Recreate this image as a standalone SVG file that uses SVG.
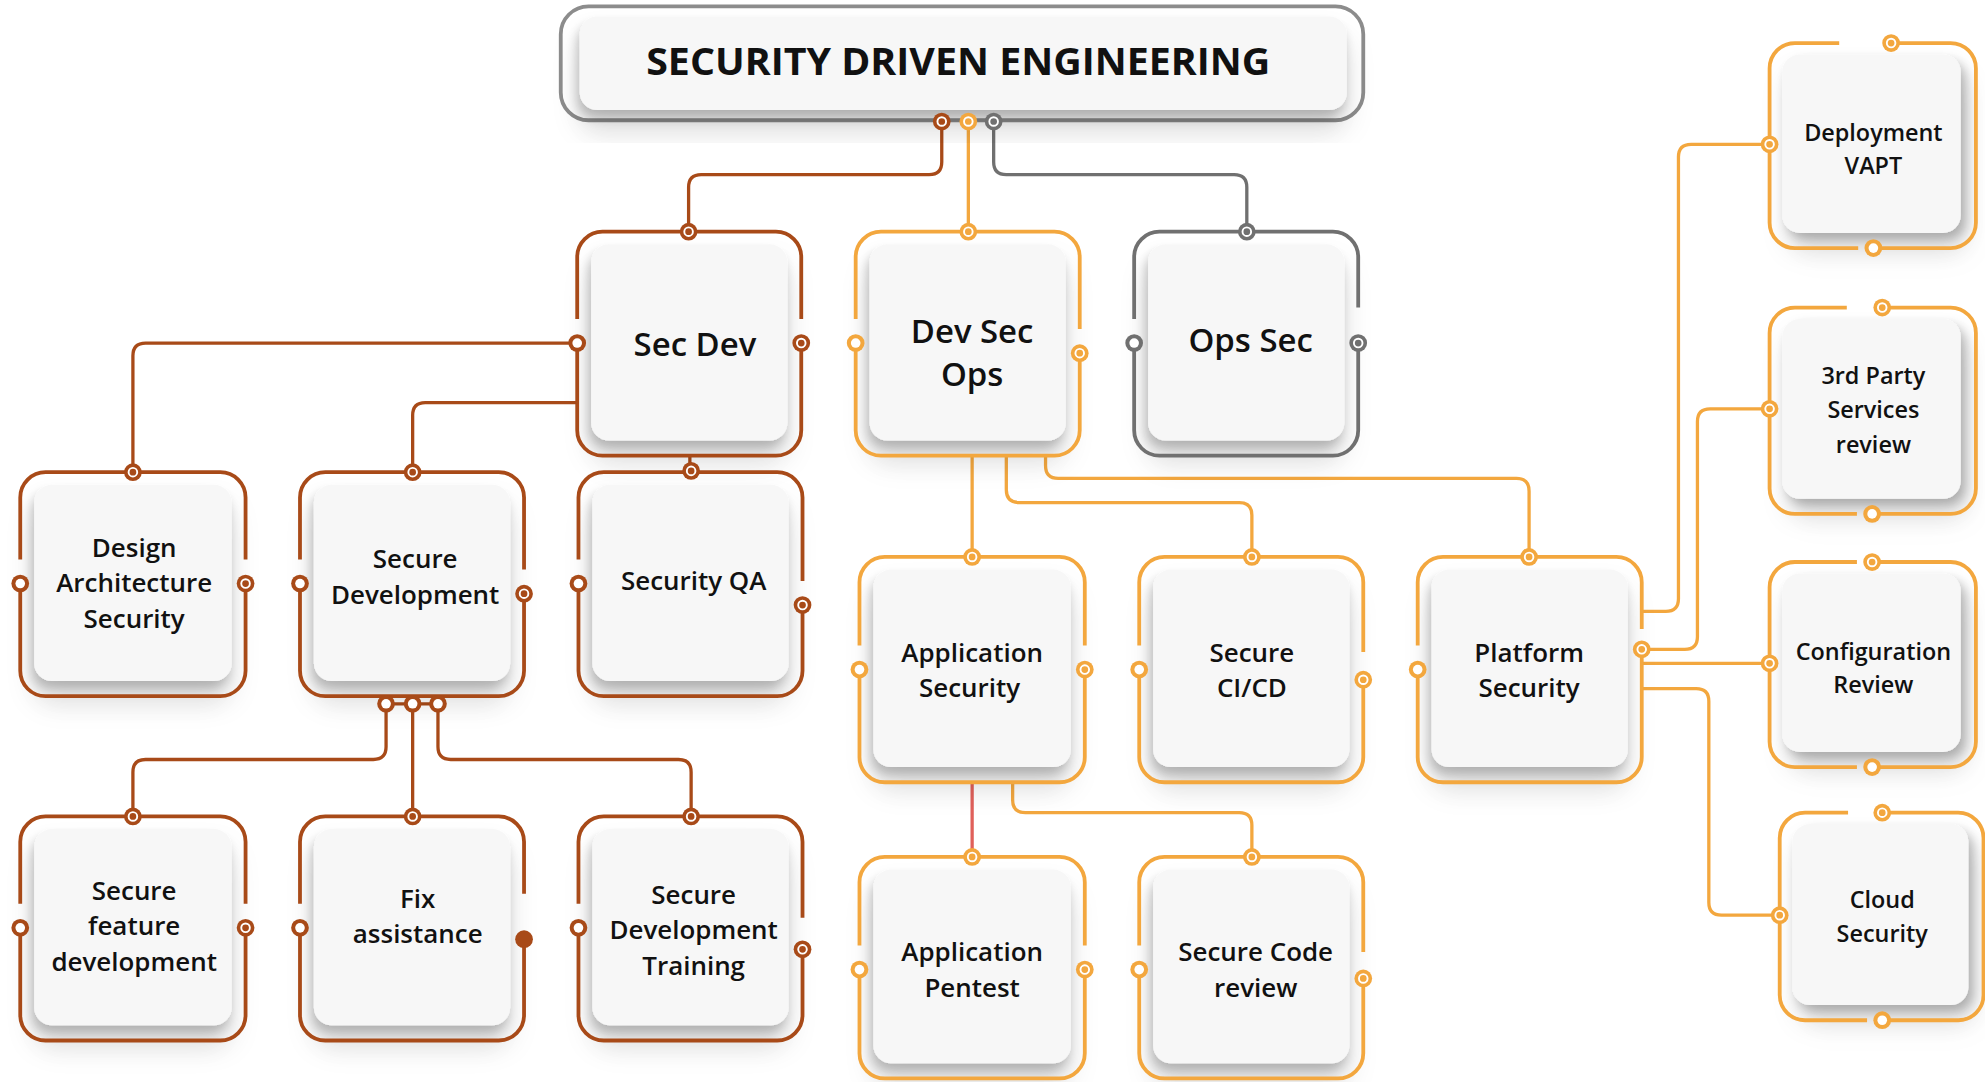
<svg xmlns="http://www.w3.org/2000/svg" xmlns:xlink="http://www.w3.org/1999/xlink" width="1985" height="1082" viewBox="0 0 1985 1082">
<style>
.o{fill:none;stroke-width:3;stroke-linecap:butt}
.c{fill:none;stroke-width:2.6}
.br{stroke:#a84a18}.or{stroke:#f3a73e}.gr{stroke:#707070}.tg{stroke:#8c8c8c}
.fb{fill:#a84a18}.fo{fill:#f3a73e}.fg{fill:#707070}
.card{fill:#f7f7f7;filter:url(#sh)}
.cardr{fill:#f7f7f7;filter:url(#shr)}
.t{font-family:"Open Sans","Liberation Sans",sans-serif;font-weight:600;font-size:20.5px;fill:#111;text-anchor:middle}
.big{font-size:26px}
.sm{font-size:18.5px}
.title{font-family:"Open Sans","Liberation Sans",sans-serif;font-weight:700;font-size:30px;fill:#111;text-anchor:middle}
</style>
<defs>
<filter id="sh" x="-25%" y="-25%" width="150%" height="160%">
<feDropShadow dx="0" dy="16" stdDeviation="11" flood-color="#000" flood-opacity="0.12"/>
<feDropShadow dx="-2" dy="6" stdDeviation="4" flood-color="#000" flood-opacity="0.22"/>
</filter>
<filter id="shr" x="-25%" y="-25%" width="150%" height="160%">
<feDropShadow dx="4" dy="14" stdDeviation="10" flood-color="#000" flood-opacity="0.12"/>
<feDropShadow dx="4" dy="5" stdDeviation="4" flood-color="#000" flood-opacity="0.25"/>
</filter>
<g id="hb"><circle r="7" class="fb"/><circle r="3.8" fill="#fff"/></g>
<g id="rb"><circle r="7" class="fb"/><circle r="3.4" fill="none" stroke="#fff" stroke-width="1.5"/></g>
<g id="fbd"><circle r="7" class="fb"/></g>
<g id="ho"><circle r="7" class="fo"/><circle r="3.8" fill="#fff"/></g>
<g id="ro"><circle r="7" class="fo"/><circle r="3.4" fill="none" stroke="#fff" stroke-width="1.5"/></g>
<g id="hg"><circle r="7" class="fg"/><circle r="3.8" fill="#fff"/></g>
<g id="rg"><circle r="7" class="fg"/><circle r="3.4" fill="none" stroke="#fff" stroke-width="1.5"/></g>
</defs>
<rect width="1985" height="1082" fill="#ffffff"/>
<g transform="scale(1.2658)">

<g id="connectors">
<path class="c br" d="M744,96 V128 Q744,138 734,138 H554 Q544,138 544,148 V183"/>
<path class="c or" d="M765,96 V183"/>
<path class="c gr" d="M785,96 V128 Q785,138 795,138 H975 Q985,138 985,148 V183"/>
<path class="c br" d="M456,271 H115 Q105,271 105,281 V373"/>
<path class="c br" d="M456,318 H336 Q326,318 326,328 V373"/>
<path class="c br" d="M545,360 V373"/>
<path class="c br" d="M305,556 H346"/>
<path class="c br" d="M305,556 V590 Q305,600 295,600 H115 Q105,600 105,610 V645"/>
<path class="c br" d="M326,556 V645"/>
<path class="c br" d="M346,556 V590 Q346,600 356,600 H536 Q546,600 546,610 V645"/>
<path class="c or" d="M768,360 V440"/>
<path class="c or" d="M795,360 V387 Q795,397 805,397 H979 Q989,397 989,407 V440"/>
<path class="c or" d="M826,360 V368 Q826,378 836,378 H1198 Q1208,378 1208,388 V440"/>
<path class="c" stroke="#e0605a" stroke-width="1.8" d="M768,618 V677"/>
<path class="c or" d="M800,618 V632 Q800,642 810,642 H979 Q989,642 989,652 V677"/>
<path class="c or" d="M1297,483 H1316 Q1326,483 1326,473 V124 Q1326,114 1336,114 H1398"/>
<path class="c or" d="M1297,513 H1331 Q1341,513 1341,503 V333 Q1341,323 1351,323 H1398"/>
<path class="c or" d="M1297,524 H1398"/>
<path class="c or" d="M1297,544 H1340 Q1350,544 1350,554 V713 Q1350,723 1360,723 H1406"/>
</g>

<g id="title">
<rect x="443" y="5" width="634" height="90" rx="22" class="o tg"/>
<rect x="458" y="13" width="606" height="74" rx="14" class="card"/>
<text class="title" x="757" y="59" textLength="493" lengthAdjust="spacingAndGlyphs">SECURITY DRIVEN ENGINEERING</text>
<use href="#rb" x="744" y="96"/><use href="#ro" x="765" y="96"/><use href="#rg" x="785" y="96"/>
</g>

<g id="sec-dev">
<rect x="467" y="193" width="155" height="155" rx="14" class="card"/>
<path class="o br" d="M456,252 V203 A20,20 0 0 1 476,183 H613 A20,20 0 0 1 633,203 V252 M633,271 V340 A20,20 0 0 1 613,360 H476 A20,20 0 0 1 456,340 V271"/>
<use href="#rb" x="544" y="183"/><use href="#hb" x="456" y="271"/><use href="#rb" x="633" y="271"/>
<text class="t big" x="549" y="281">Sec Dev</text>
</g>

<g id="dev-sec-ops">
<rect x="687" y="193" width="155" height="155" rx="14" class="card"/>
<path class="o or" d="M676,252 V203 A20,20 0 0 1 696,183 H833 A20,20 0 0 1 853,203 V260 M853,279 V340 A20,20 0 0 1 833,360 H696 A20,20 0 0 1 676,340 V271"/>
<use href="#ro" x="765" y="183"/><use href="#ho" x="676" y="271"/><use href="#ro" x="853" y="279"/>
<text class="t big" x="768" y="271">Dev Sec</text>
<text class="t big" x="768" y="305">Ops</text>
</g>

<g id="ops-sec">
<rect x="907" y="193" width="155" height="155" rx="14" class="card"/>
<path class="o gr" d="M896,252 V203 A20,20 0 0 1 916,183 H1053 A20,20 0 0 1 1073,203 V243 M1073,271 V340 A20,20 0 0 1 1053,360 H916 A20,20 0 0 1 896,340 V271"/>
<use href="#rg" x="985" y="183"/><use href="#hg" x="896" y="271"/><use href="#rg" x="1073" y="271"/>
<text class="t big" x="988" y="278">Ops Sec</text>
</g>

<g id="design-architecture-security">
<rect x="27" y="383" width="156" height="155" rx="14" class="card"/>
<path class="o br" d="M16,442 V393 A20,20 0 0 1 36,373 H174 A20,20 0 0 1 194,393 V442 M194,461 V530 A20,20 0 0 1 174,550 H36 A20,20 0 0 1 16,530 V461"/>
<use href="#rb" x="105" y="373"/><use href="#hb" x="16" y="461"/><use href="#rb" x="194" y="461"/>
<text class="t" x="106" y="440">Design</text>
<text class="t" x="106" y="468">Architecture</text>
<text class="t" x="106" y="496">Security</text>
</g>

<g id="secure-development">
<rect x="248" y="383" width="155" height="155" rx="14" class="card"/>
<path class="o br" d="M237,442 V393 A20,20 0 0 1 257,373 H394 A20,20 0 0 1 414,393 V450 M414,469 V530 A20,20 0 0 1 394,550 H257 A20,20 0 0 1 237,530 V461"/>
<use href="#rb" x="326" y="373"/><use href="#hb" x="237" y="461"/><use href="#rb" x="414" y="469"/>
<use href="#hb" x="305" y="556"/><use href="#hb" x="326" y="556"/><use href="#hb" x="346" y="556"/>
<text class="t" x="328" y="449">Secure</text>
<text class="t" x="328" y="477">Development</text>
</g>

<g id="security-qa">
<rect x="468" y="383" width="155" height="155" rx="14" class="card"/>
<path class="o br" d="M457,442 V393 A20,20 0 0 1 477,373 H614 A20,20 0 0 1 634,393 V459 M634,478 V530 A20,20 0 0 1 614,550 H477 A20,20 0 0 1 457,530 V461"/>
<use href="#rb" x="546" y="372"/><use href="#hb" x="457" y="461"/><use href="#rb" x="634" y="478"/>
<text class="t" x="548" y="466">Security QA</text>
</g>

<g id="secure-feature-development">
<rect x="27" y="655" width="156" height="155" rx="14" class="card"/>
<path class="o br" d="M16,714 V665 A20,20 0 0 1 36,645 H174 A20,20 0 0 1 194,665 V714 M194,733 V802 A20,20 0 0 1 174,822 H36 A20,20 0 0 1 16,802 V733"/>
<use href="#rb" x="105" y="645"/><use href="#hb" x="16" y="733"/><use href="#rb" x="194" y="733"/>
<text class="t" x="106" y="711">Secure</text>
<text class="t" x="106" y="739">feature</text>
<text class="t" x="106" y="767">development</text>
</g>

<g id="fix-assistance">
<rect x="248" y="655" width="155" height="155" rx="14" class="card"/>
<path class="o br" d="M237,714 V665 A20,20 0 0 1 257,645 H394 A20,20 0 0 1 414,665 V706 M414,742 V802 A20,20 0 0 1 394,822 H257 A20,20 0 0 1 237,802 V733"/>
<use href="#rb" x="326" y="645"/><use href="#hb" x="237" y="733"/><use href="#fbd" x="414" y="742"/>
<text class="t" x="330" y="717">Fix</text>
<text class="t" x="330" y="745">assistance</text>
</g>

<g id="secure-development-training">
<rect x="468" y="655" width="155" height="155" rx="14" class="card"/>
<path class="o br" d="M457,714 V665 A20,20 0 0 1 477,645 H614 A20,20 0 0 1 634,665 V725 M634,750 V802 A20,20 0 0 1 614,822 H477 A20,20 0 0 1 457,802 V733"/>
<use href="#rb" x="546" y="645"/><use href="#hb" x="457" y="733"/><use href="#rb" x="634" y="750"/>
<text class="t" x="548" y="714">Secure</text>
<text class="t" x="548" y="742">Development</text>
<text class="t" x="548" y="770">Training</text>
</g>

<g id="application-security">
<rect x="690" y="450" width="156" height="156" rx="14" class="card"/>
<path class="o or" d="M679,510 V460 A20,20 0 0 1 699,440 H837 A20,20 0 0 1 857,460 V510 M857,529 V598 A20,20 0 0 1 837,618 H699 A20,20 0 0 1 679,598 V529"/>
<use href="#ro" x="768" y="440"/><use href="#ho" x="679" y="529"/><use href="#ro" x="857" y="529"/>
<text class="t" x="768" y="523">Application</text>
<text class="t" x="766" y="551">Security</text>
</g>

<g id="secure-ci-cd">
<rect x="911" y="450" width="155" height="156" rx="14" class="card"/>
<path class="o or" d="M900,510 V460 A20,20 0 0 1 920,440 H1057 A20,20 0 0 1 1077,460 V515 M1077,537 V598 A20,20 0 0 1 1057,618 H920 A20,20 0 0 1 900,598 V529"/>
<use href="#ro" x="989" y="440"/><use href="#ho" x="900" y="529"/><use href="#ro" x="1077" y="537"/>
<text class="t" x="989" y="523">Secure</text>
<text class="t" x="989" y="551">CI/CD</text>
</g>

<g id="platform-security">
<rect x="1131" y="450" width="155" height="156" rx="14" class="card"/>
<path class="o or" d="M1120,510 V460 A20,20 0 0 1 1140,440 H1277 A20,20 0 0 1 1297,460 V497 M1297,513 V598 A20,20 0 0 1 1277,618 H1140 A20,20 0 0 1 1120,598 V529"/>
<use href="#ro" x="1208" y="440"/><use href="#ho" x="1120" y="529"/><use href="#ro" x="1297" y="513"/>
<text class="t" x="1208" y="523">Platform</text>
<text class="t" x="1208" y="551">Security</text>
</g>

<g id="application-pentest">
<rect x="690" y="687" width="156" height="153" rx="14" class="card"/>
<path class="o or" d="M679,747 V697 A20,20 0 0 1 699,677 H837 A20,20 0 0 1 857,697 V747 M857,766 V832 A20,20 0 0 1 837,852 H699 A20,20 0 0 1 679,832 V766"/>
<use href="#ro" x="768" y="677"/><use href="#ho" x="679" y="766"/><use href="#ro" x="857" y="766"/>
<text class="t" x="768" y="759">Application</text>
<text class="t" x="768" y="788">Pentest</text>
</g>

<g id="secure-code-review">
<rect x="911" y="687" width="155" height="153" rx="14" class="card"/>
<path class="o or" d="M900,747 V697 A20,20 0 0 1 920,677 H1057 A20,20 0 0 1 1077,697 V752 M1077,773 V832 A20,20 0 0 1 1057,852 H920 A20,20 0 0 1 900,832 V766"/>
<use href="#ro" x="989" y="677"/><use href="#ho" x="900" y="766"/><use href="#ro" x="1077" y="773"/>
<text class="t" x="992" y="759">Secure Code</text>
<text class="t" x="992" y="788">review</text>
</g>

<g id="deployment-vapt">
<rect x="1408" y="43" width="141" height="141" rx="14" class="cardr"/>
<path class="o or" d="M1453,34 H1418 A20,20 0 0 0 1398,54 V176 A20,20 0 0 0 1418,196 H1468 M1494,34 H1541 A20,20 0 0 1 1561,54 V176 A20,20 0 0 1 1541,196 H1480"/>
<use href="#ro" x="1494" y="34"/><use href="#ro" x="1398" y="114"/><use href="#ho" x="1480" y="196"/>
<text class="t sm" x="1480" y="111.5">Deployment</text>
<text class="t sm" x="1480" y="137.5">VAPT</text>
</g>

<g id="third-party-services-review">
<rect x="1408" y="252" width="141" height="142" rx="14" class="cardr"/>
<path class="o or" d="M1459,243 H1418 A20,20 0 0 0 1398,263 V386 A20,20 0 0 0 1418,406 H1467 M1487,243 H1541 A20,20 0 0 1 1561,263 V386 A20,20 0 0 1 1541,406 H1479"/>
<use href="#ro" x="1487" y="243"/><use href="#ro" x="1398" y="323"/><use href="#ho" x="1479" y="406"/>
<text class="t sm" x="1480" y="303.5">3rd Party</text>
<text class="t sm" x="1480" y="330.5">Services</text>
<text class="t sm" x="1480" y="357.5">review</text>
</g>

<g id="configuration-review">
<rect x="1408" y="453" width="141" height="141" rx="14" class="cardr"/>
<path class="o or" d="M1467,444 H1418 A20,20 0 0 0 1398,464 V586 A20,20 0 0 0 1418,606 H1467 M1479,444 H1541 A20,20 0 0 1 1561,464 V586 A20,20 0 0 1 1541,606 H1479"/>
<use href="#ro" x="1479" y="444"/><use href="#ro" x="1398" y="524"/><use href="#ho" x="1479" y="606"/>
<text class="t sm" x="1480" y="521.5">Configuration</text>
<text class="t sm" x="1480" y="547.5">Review</text>
</g>

<g id="cloud-security">
<rect x="1416" y="651" width="139" height="143" rx="14" class="cardr"/>
<path class="o or" d="M1460,642 H1426 A20,20 0 0 0 1406,662 V786 A20,20 0 0 0 1426,806 H1475 M1487,642 H1547 A20,20 0 0 1 1567,662 V786 A20,20 0 0 1 1547,806 H1487"/>
<use href="#ro" x="1487" y="642"/><use href="#ro" x="1406" y="723"/><use href="#ho" x="1487" y="806"/>
<text class="t sm" x="1487" y="717.5">Cloud</text>
<text class="t sm" x="1487" y="744.5">Security</text>
</g>

</g>
</svg>
